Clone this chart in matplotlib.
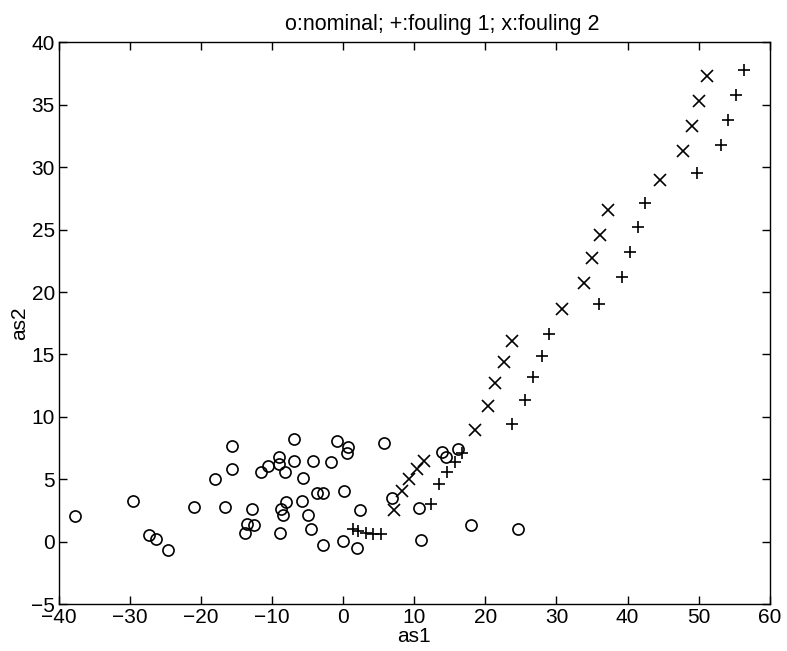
import numpy as np
import matplotlib
matplotlib.use('Agg')
from matplotlib import pyplot as plt

# nominal (o)
nom_x = [-37.7, -29.6, -27.4, -26.3, -24.7, -21.0, -18.1, -16.6, -15.6, -15.6,
         -12.8, -13.6, -12.6, -13.8, -11.6, -10.6, -9.1, -9.1, -8.2, -7.0,
         -7.0, -8.8, -8.1, -8.5, -8.9, -5.6, -5.85, -5.0, -4.6, -4.2,
         -3.7, -2.9, -2.9, -1.7, -0.9, 0.6, 0.5, 0.04, 0.0, 1.95,
         2.4, 5.75, 6.9, 10.6, 10.9, 13.9, 14.4, 16.1, 18.0, 24.6]
nom_y = [2.08, 3.3, 0.56, 0.18, -0.7, 2.74, 5.0, 2.77, 7.7, 5.8,
         2.6, 1.4, 1.33, 0.69, 5.6, 6.1, 6.8, 6.2, 5.6, 8.2,
         6.5, 2.6, 3.2, 2.1, 0.72, 5.1, 3.3, 2.1, 1.04, 6.45,
         3.9, 3.9, -0.3, 6.4, 8.1, 7.6, 7.1, 4.1, 0.05, -0.5,
         2.5, 7.9, 3.5, 2.7, 0.1, 7.2, 6.8, 7.4, 1.3, 1.04]

# fouling 1 (+)
f1_x = [1.35, 2.1, 3.2, 4.2, 5.3, 12.3, 13.5, 14.6, 15.7, 16.7,
        23.8, 25.6, 26.7, 27.9, 28.9, 36.0, 39.2, 40.3, 41.4, 42.5,
        49.8, 53.1, 54.2, 55.3, 56.4]
f1_y = [1.0, 0.88, 0.72, 0.61, 0.58, 3.06, 4.6, 5.6, 6.4, 7.1,
        9.44, 11.36, 13.2, 14.9, 16.6, 19.06, 21.2, 23.2, 25.2, 27.1,
        29.5, 31.8, 33.8, 35.8, 37.8]

# fouling 2 (x)
f2_x = [7.1, 8.3, 9.3, 10.4, 11.4, 18.6, 20.3, 21.4, 22.6, 23.7,
        30.8, 33.9, 35.0, 36.1, 37.2, 44.5, 47.8, 49.0, 50.1, 51.2]
f2_y = [2.5, 4.07, 5.0, 5.8, 6.45, 8.93, 10.89, 12.69, 14.4, 16.1,
        18.6, 20.7, 22.7, 24.6, 26.6, 29.0, 31.3, 33.3, 35.3, 37.3]

plt.rcParams['font.family'] = ['Liberation Sans', 'DejaVu Sans']
plt.rcParams['font.size'] = 15

fig = plt.figure(figsize=(7.87, 6.51), dpi=100)
ax = fig.add_axes([0.075, 0.072, 0.903, 0.863])

ax.plot(nom_x, nom_y, 'o', mfc='none', mec='k', ms=8, mew=1.2)
ax.plot(f1_x, f1_y, '+', color='k', ms=9, mew=1.2)
ax.plot(f2_x, f2_y, 'x', color='k', ms=8, mew=1.2)

ax.set_xlim(-40, 60)
ax.set_ylim(-5, 40)
ax.set_xticks(np.arange(-40, 61, 10))
ax.set_yticks(np.arange(-5, 41, 5))
ax.tick_params(direction='in', top=True, right=True, length=6, width=1,
               pad=3)
for s in ax.spines.values():
    s.set_linewidth(1)

# title sits a bit right of centre in the original
ax.set_title('o:nominal; +:fouling 1; x:fouling 2', fontsize=15.5, pad=9,
             x=0.539)
ax.set_xlabel('as1', labelpad=0)
ax.set_ylabel('as2', labelpad=1)

fig.savefig('out.png', dpi=100)
